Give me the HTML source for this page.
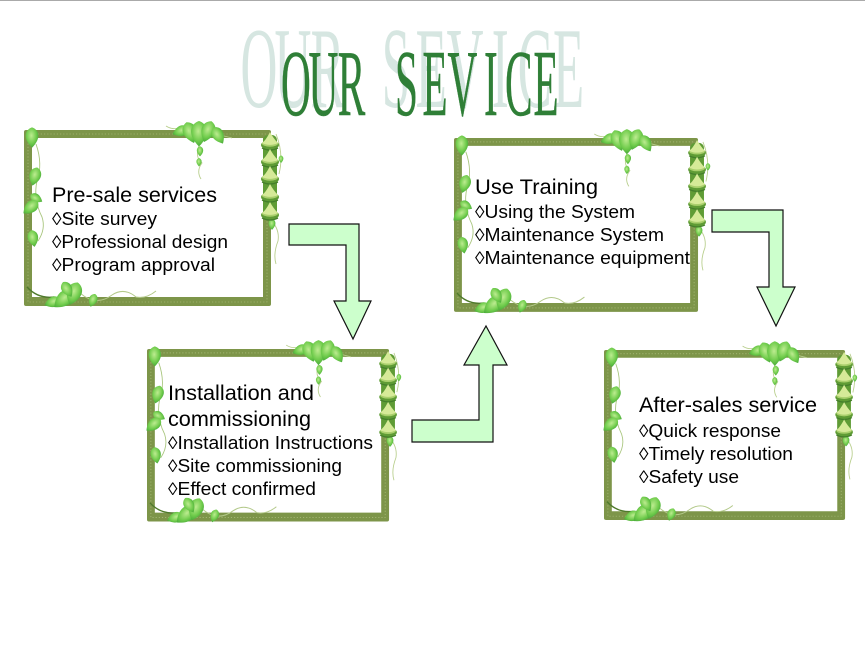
<!DOCTYPE html>
<html>
<head>
<meta charset="utf-8">
<style>
html,body{margin:0;padding:0;background:#fff;width:865px;height:652px;overflow:hidden}
svg{display:block}
text{font-family:"Liberation Sans",sans-serif;fill:#000}
.h{font-size:21px}
.i{font-size:18px}
.t{font-family:"Liberation Serif",serif}
</style>
</head>
<body>
<svg width="865" height="652" viewBox="0 0 865 652" xmlns="http://www.w3.org/2000/svg">
<defs>
<radialGradient id="lf" cx="45%" cy="40%" r="70%">
<stop offset="0" stop-color="#bdec90"/><stop offset=".55" stop-color="#70cc4c"/><stop offset="1" stop-color="#379a32"/>
</radialGradient>
<path id="leaf" d="M0,-8C6,-6 8,1 0,9C-8,1 -6,-6 0,-8Z" fill="url(#lf)"/>
<g id="bell">
<ellipse cx="0" cy="5" rx="9" ry="4.6" fill="#5f9c35"/>
<ellipse cx="0" cy="3.5" rx="8" ry="3.2" fill="#a9cf6c"/>
<path d="M-8,3C-5,1 -2,-4 0,-8C2,-4 5,0 8,3C3,5.5 -3,5.5 -8,3Z" fill="#d6ea98"/>
<path d="M-8,8Q0,12 8,8" fill="none" stroke="#447f2b" stroke-width="1.3"/>
</g>
<g id="frame">
<path fill-rule="evenodd" d="M2,1H245Q247,1 247,3V175Q247,177 245,177H2Q0,177 0,175V3Q0,1 2,1ZM8,9V168H239V9Z" fill="#7d9549"/>
<rect x="4" y="5" width="239" height="168" fill="none" stroke="#cfdca6" stroke-width=".6" stroke-dasharray="1.2 2" opacity=".7"/>
<!-- top vine cluster -->
<path d="M142,-3Q148,1 155,-1M176,14Q170,28 178,34Q172,42 177,50M196,6Q204,8 208,9" fill="none" stroke="#b9cf8e" stroke-width=".9"/>
<use href="#leaf" transform="translate(157,2) rotate(70) scale(1)"/>
<use href="#leaf" transform="translate(166,3) rotate(-20) scale(1.3)"/>
<use href="#leaf" transform="translate(175,4) scale(1.5)"/>
<use href="#leaf" transform="translate(184,2) rotate(20) scale(1.3)"/>
<use href="#leaf" transform="translate(194,6) rotate(-30) scale(1.1)"/>
<use href="#leaf" transform="translate(176,22) scale(.6)"/>
<use href="#leaf" transform="translate(175,33) scale(.5)"/>
<!-- left vine -->
<path d="M12,15Q19,35 13,52Q9,70 18,88Q22,100 14,112" fill="none" stroke="#a9c67e" stroke-width=".9"/>
<use href="#leaf" transform="translate(8,8) scale(1.2)"/>
<use href="#leaf" transform="translate(11,47) rotate(15) scale(1.1)"/>
<use href="#leaf" transform="translate(12,69) rotate(-60) scale(.8)"/>
<use href="#leaf" transform="translate(7,78) rotate(50) scale(1.1)"/>
<use href="#leaf" transform="translate(9,109) rotate(-10) scale(1)"/>
<!-- right bells -->
<path d="M252,5Q260,25 255,45M246,90Q256,100 254,112Q249,125 252,135" fill="none" stroke="#b9cf8e" stroke-width=".9"/>
<use href="#leaf" transform="translate(248,95) scale(.65)"/>
<use href="#leaf" transform="translate(257,30) scale(.45)"/>
<rect x="239" y="6" width="14" height="84" rx="5" fill="#5f9c35"/>
<use href="#bell" transform="translate(246,11)"/>
<use href="#bell" transform="translate(246,28)"/>
<use href="#bell" transform="translate(246,45)"/>
<use href="#bell" transform="translate(246,63)"/>
<use href="#bell" transform="translate(246,81)"/>
<!-- bottom cluster -->
<path d="M3,158Q14,170 30,168" fill="none" stroke="#4f7a2c" stroke-width="1.4"/>
<path d="M56,164Q72,178 88,166Q100,158 112,168Q122,170 132,162" fill="none" stroke="#b3c98a" stroke-width="1"/>
<use href="#leaf" transform="translate(29,173) rotate(70) scale(1)"/>
<use href="#leaf" transform="translate(40,170) rotate(50) scale(1.4)"/>
<use href="#leaf" transform="translate(50,164) rotate(20) scale(1.4)"/>
<use href="#leaf" transform="translate(43,160) rotate(-30) scale(1)"/>
<use href="#leaf" transform="translate(69,171) rotate(20) scale(.8)"/>
</g>
</defs>

<rect width="865" height="652" fill="#fff"/>
<rect width="865" height="1" fill="#aaa"/>

<!-- Title -->
<g transform="scale(.44,1)">
<text class="t" y="107" font-size="116" x="546.6 624 706 819.5 867.5 944.5 1015 1117.7 1176.8 1256.8" style="fill:#d6e6e1">OUR SEVICE</text>
<text class="t" y="115" font-size="94" x="638.6 701.1 767.5 860 897.7 960 1017 1100 1147.7 1212.3" style="fill:#2f7f37;stroke:#2f7f37;stroke-width:.4">OUR SEVICE</text>
</g>

<!-- Frames -->
<use href="#frame" transform="translate(24,129)"/>
<use href="#frame" transform="translate(147,348) scale(.98,.98)"/>
<use href="#frame" transform="translate(454,137) scale(.988,.988)"/>
<use href="#frame" transform="translate(604,349) scale(.976,.966)"/>

<!-- Arrows -->
<g fill="#ccffcc" stroke="#111" stroke-width="1.2" stroke-linejoin="miter">
<path d="M289,224H359V301H371L353,339L334,301H346V245H289Z"/>
<path d="M412,420H479V365H464L486,326L507,365H493V442H412Z"/>
<path d="M712,210H783V287H795L776,326L757,287H769V232H712Z"/>
</g>

<!-- Frame 1 text -->
<text class="h" x="52" y="202" textLength="165" lengthAdjust="spacingAndGlyphs">Pre-sale services</text>
<text class="i" x="52" y="225" textLength="105" lengthAdjust="spacingAndGlyphs">◊Site survey</text>
<text class="i" x="52" y="248" textLength="176" lengthAdjust="spacingAndGlyphs">◊Professional design</text>
<text class="i" x="52" y="271" textLength="163" lengthAdjust="spacingAndGlyphs">◊Program approval</text>

<!-- Frame 2 text -->
<text class="h" x="168" y="400" textLength="146" lengthAdjust="spacingAndGlyphs">Installation and</text>
<text class="h" x="168" y="426" textLength="143" lengthAdjust="spacingAndGlyphs">commissioning</text>
<text class="i" x="168" y="449" textLength="205" lengthAdjust="spacingAndGlyphs">◊Installation Instructions</text>
<text class="i" x="168" y="472" textLength="174" lengthAdjust="spacingAndGlyphs">◊Site commissioning</text>
<text class="i" x="168" y="495" textLength="148" lengthAdjust="spacingAndGlyphs">◊Effect confirmed</text>

<!-- Frame 3 text -->
<text class="h" x="475" y="194" textLength="123" lengthAdjust="spacingAndGlyphs">Use Training</text>
<text class="i" x="475" y="218" textLength="160" lengthAdjust="spacingAndGlyphs">◊Using the System</text>
<text class="i" x="475" y="241" textLength="189" lengthAdjust="spacingAndGlyphs">◊Maintenance System</text>
<text class="i" x="475" y="264" textLength="215" lengthAdjust="spacingAndGlyphs">◊Maintenance equipment</text>

<!-- Frame 4 text -->
<text class="h" x="639" y="412" textLength="178" lengthAdjust="spacingAndGlyphs">After-sales service</text>
<text class="i" x="639" y="437" textLength="142" lengthAdjust="spacingAndGlyphs">◊Quick response</text>
<text class="i" x="639" y="460" textLength="154" lengthAdjust="spacingAndGlyphs">◊Timely resolution</text>
<text class="i" x="639" y="483" textLength="100" lengthAdjust="spacingAndGlyphs">◊Safety use</text>
</svg>
</body>
</html>
